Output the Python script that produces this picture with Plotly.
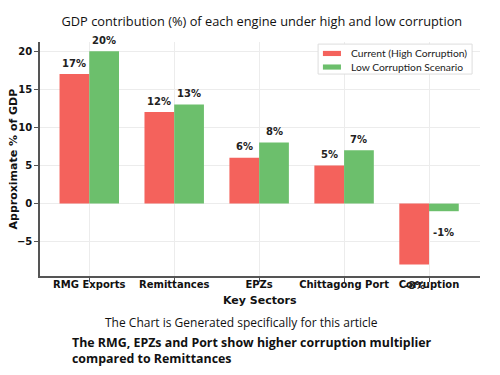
import plotly.graph_objects as go

categories = ["RMG Exports", "Remittances", "EPZs", "Chittagong Port", "Corruption"]
current_vals = [17, 12, 6, 5, -8]
low_vals = [20, 13, 8, 7, -1]
series_names = ["Current (High Corruption)", "Low Corruption Scenario"]
ytick_vals = [-5, 0, 5, 10, 15, 20]
ytick_text = ["\u22125", "0", "5", "10", "15", "20"]

RED = "#F4625C"
GREEN = "#6CBF6C"

# page offset of 8px (body margin) is compensated by figure size / margins
W, H = 492, 367

fig = go.Figure()
fig.add_trace(go.Bar(x=categories, y=current_vals, name=series_names[0],
                     marker=dict(color=RED, line=dict(width=0)), offsetgroup="a"))
fig.add_trace(go.Bar(x=categories, y=low_vals, name=series_names[1],
                     marker=dict(color=GREEN, line=dict(width=0)), offsetgroup="b"))

annos = []
for i, cat in enumerate(categories):
    for vals, off in ((current_vals, -0.175), (low_vals, 0.175)):
        v = vals[i]
        annos.append(dict(x=i + off, y=v, xref="x", yref="y", text=f"<b>{v}%</b>",
                          showarrow=False, yanchor="middle",
                          yshift=11 if v >= 0 else -21,
                          font=dict(family="DejaVu Sans", size=10, color="#222")))
# axis titles
annos.append(dict(x=0, y=0.5, xref="paper", yref="paper", xshift=-27.5,
                  text="<b>Approximate % of GDP</b>", textangle=-90, showarrow=False,
                  xanchor="center", yanchor="middle",
                  font=dict(family="DejaVu Sans", size=11, color="#111")))
annos.append(dict(x=0.5, y=0, xref="paper", yref="paper", yshift=-24,
                  text="<b>Key Sectors</b>", showarrow=False,
                  xanchor="center", yanchor="middle",
                  font=dict(family="DejaVu Sans", size=11, color="#111")))
# captions
annos.append(dict(x=0.459, y=-0.197, xref="paper", yref="paper",
                  text="The Chart is Generated specifically for this article",
                  showarrow=False, xanchor="center", yanchor="middle",
                  font=dict(family="Open Sans", size=12, color="#111")))
annos.append(dict(x=0.068, y=-0.318, xref="paper", yref="paper",
                  text="<b>The RMG, EPZs and Port show higher corruption multiplier<br>compared to Remittances</b>",
                  showarrow=False, xanchor="left", yanchor="middle", align="left",
                  font=dict(family="Open Sans", size=12.4, color="#111")))
# legend text
for name, yy in zip(series_names, (0.951, 0.893)):
    annos.append(dict(x=0.702, y=yy, xref="paper", yref="paper", text=name,
                      showarrow=False, xanchor="left", yanchor="middle",
                      font=dict(family="Lato", size=10.3, color="#222")))

shapes = [
    dict(type="rect", xref="paper", yref="paper", x0=0.632, x1=0.982, y0=0.863, y1=0.991,
         fillcolor="white", line=dict(color="#dddddd", width=1), layer="above"),
    dict(type="rect", xref="paper", yref="paper", x0=0.643, x1=0.684, y0=0.940, y1=0.962,
         fillcolor=RED, line=dict(width=0), layer="above"),
    dict(type="rect", xref="paper", yref="paper", x0=0.643, x1=0.684, y0=0.882, y1=0.904,
         fillcolor=GREEN, line=dict(width=0), layer="above"),
]

fig.update_layout(
    width=W, height=H,
    margin=dict(l=32, r=20, t=34, b=99),
    paper_bgcolor="white", plot_bgcolor="white",
    barmode="group", bargap=0.3, bargroupgap=0,
    title=dict(text="GDP contribution (%) of each engine under high and low corruption",
               x=0.516, xanchor="center", y=0.962, yanchor="middle", automargin=False,
               font=dict(family="Open Sans", size=12.8, color="#111")),
    annotations=annos,
    shapes=shapes,
    showlegend=False,
)
fig.update_xaxes(
    type="category", range=[-0.58, 4.6], automargin=False,
    showgrid=True, gridcolor="#ececec", gridwidth=1,
    showline=True, linecolor="#555", linewidth=1.5,
    ticks="outside", ticklen=4, tickcolor="#555", ticklabelstandoff=-6,
    tickvals=categories, ticktext=["<b>" + c + "</b>" for c in categories],
    tickfont=dict(family="DejaVu Sans", size=10, color="#111"),
    zeroline=False,
)
fig.update_yaxes(
    range=[-9.5, 21.2], automargin=False,
    tickvals=ytick_vals, ticktext=["<b>" + t + "</b>" for t in ytick_text],
    showgrid=True, gridcolor="#ececec", gridwidth=1,
    showline=True, linecolor="#555", linewidth=1.5,
    ticks="outside", ticklen=4, tickcolor="#555",
    tickfont=dict(family="DejaVu Sans", size=10, color="#111"),
    zeroline=False,
)

fig.write_html("out.html")
